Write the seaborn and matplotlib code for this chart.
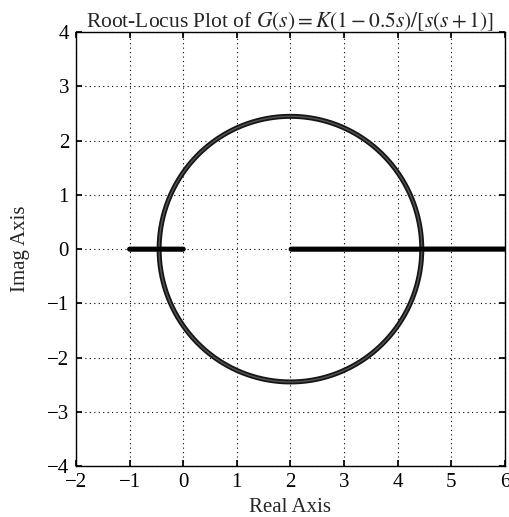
import numpy as np
import pandas as pd
import matplotlib
matplotlib.use("Agg")
import matplotlib.pyplot as plt
import seaborn as sns

# G(s) = K(1 - 0.5s) / [s(s + 1)]
num = [-0.5, 1.0]
den = [1.0, 1.0, 0.0]
xticks = [-2, -1, 0, 1, 2, 3, 4, 5, 6]
yticks = [-4, -3, -2, -1, 0, 1, 2, 3, 4]

# gain sweep, plus the exact break-away / break-in gains so the locus closes
dpoly = np.polysub(np.polymul(np.polyder(den), num), np.polymul(den, np.polyder(num)))
s_crit = np.roots(dpoly).real
k_crit = -np.polyval(den, s_crit) / np.polyval(num, s_crit)
gains = np.sort(np.concatenate([[0.0], np.geomspace(1e-4, 1e3, 20000), k_crit]))

rows = []
for k in gains:
    r = np.roots(np.polyadd(den, k * np.array(num)))
    if abs(r[0].imag) > 1e-6:
        a, b = r[np.argmax(r.imag)], r[np.argmin(r.imag)]
        part = "complex"
    else:
        rs = np.sort(r.real)
        a, b = complex(rs[1]), complex(rs[0])
        part = "real"
    rows.append((k, "A", a.real, a.imag, part))
    rows.append((k, "B", b.real, b.imag, part))

df = pd.DataFrame(rows, columns=["K", "branch", "re", "im", "part"])
df["seg"] = df.groupby("branch")["part"].transform(lambda p: (p != p.shift()).cumsum())

sns.set_theme(style="ticks")
plt.rcParams["font.family"] = ["Liberation Serif", "DejaVu Serif"]
plt.rcParams["mathtext.fontset"] = "stix"

fig = plt.figure(figsize=(5.1, 5.17), dpi=100)
ax = fig.add_axes([0.149, 0.0986, 0.841, 0.839])

# whole branches drawn as a grainy dark trace
for br, g in df.groupby("branch"):
    sns.lineplot(data=g, x="re", y="im", sort=False, estimator=None,
                 color="#151515", lw=3.6, ax=ax)
    sns.lineplot(data=g, x="re", y="im", sort=False, estimator=None,
                 color="#555555", lw=1.0, ax=ax)

# real-axis parts are solid black
for (br, sg), g in df[df["part"] == "real"].groupby(["branch", "seg"]):
    sns.lineplot(data=g, x="re", y="im", sort=False, estimator=None,
                 color="black", lw=3.2, ax=ax)

ax.set_xlim(-2, 6)
ax.set_ylim(-4, 4)
ax.set_xticks(xticks)
ax.set_yticks(yticks)
ax.grid(True, linestyle=(0, (1, 3)), color="black", lw=0.8)
ax.tick_params(direction="in", top=True, right=True, length=4,
               labelsize=15, colors="black", pad=5)
for s in ax.spines.values():
    s.set_color("black")
    s.set_linewidth(1)

ax.set_title(r"Root-Locus Plot of $G(s) = K(1 - 0.5s)/[s(s + 1)]$",
             fontsize=15.5, pad=4)
ax.set_xlabel("Real Axis", fontsize=15, labelpad=4)
ax.set_ylabel("Imag Axis", fontsize=15, labelpad=12)

fig.savefig("out.png", dpi=100)
